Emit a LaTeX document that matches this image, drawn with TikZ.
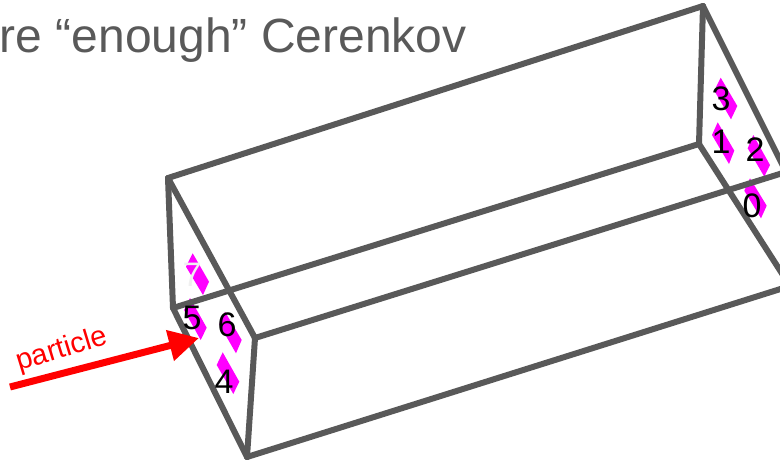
\documentclass[tikz,border=0pt]{standalone}
\usepackage{fontspec}
\setmainfont{Liberation Sans}
\usetikzlibrary{arrows.meta}
\definecolor{boxgray}{HTML}{595959}
\definecolor{mag}{HTML}{FF00FF}
\tikzset{
  edge/.style={draw=boxgray,line width=6pt,line cap=round},
  pmt/.style={fill=mag},
  num/.style={font=\fontsize{34}{34}\selectfont,text=black,inner sep=0pt},
}
\begin{document}
\begin{tikzpicture}[x=1pt,y=-1pt]
\useasboundingbox (0,0) rectangle (780,460);
\clip (0,0) rectangle (780,460);
% diamonds
\fill[pmt] (192.7,253.3)--(186,266.7)--(203,295)--(209,281.7)--cycle;
\fill[pmt] (190,298)--(184,310)--(200.7,340)--(206.7,327.7)--cycle;
\fill[pmt] (225,311.7)--(219.3,324.3)--(236,353.3)--(241.7,340)--cycle;
\fill[pmt] (222.7,352.3)--(216.7,365)--(233.3,394)--(239.3,381.7)--cycle;
\fill[pmt] (720.7,77.7)--(714.3,90.7)--(731,119.3)--(737.3,106)--cycle;
\fill[pmt] (717.7,122.3)--(712,135)--(729,164)--(734.3,150.7)--cycle;
\fill[pmt] (753.3,135)--(747.7,148.3)--(764.3,176.7)--(770,165)--cycle;
\fill[pmt] (750,178.3)--(744.3,190.7)--(761,218.3)--(766.7,205.7)--cycle;
% box corners
\coordinate (A) at (168,178);
\coordinate (B) at (703,6);
\coordinate (C) at (173,308);
\coordinate (D) at (699,144);
\coordinate (E) at (255,338);
\coordinate (F) at (786,172);
\coordinate (G) at (247,457);
\coordinate (H) at (790,286);
\draw[edge] (A)--(B);
\draw[edge] (A)--(C);
\draw[edge] (A)--(E);
\draw[edge] (B)--(D);
\draw[edge] (B)--(F);
\draw[edge] (C)--(D);
\draw[edge] (C)--(G);
\draw[edge] (E)--(F);
\draw[edge] (E)--(G);
\draw[edge] (G)--(H);
\draw[edge] (D)--(H);
% title
\node[anchor=base east,inner sep=0pt,text=boxgray,font=\fontsize{48}{48}\selectfont] (title) at (467,53) {re “enough” Cerenkov};
% arrow
\coordinate (pstart) at (10,387);
\coordinate (ptip) at (199,338);
\draw[red,line width=7pt,-{Triangle[length=30pt,width=30pt]}] (pstart)--(ptip);
\node[rotate=17,text=red,font=\fontsize{29}{29}\selectfont,inner sep=0pt] (plabel) at (62,350) {particle};
% numbers
\node[num,text=black!6] (n7) at (192,275) {7};
\node[num] (n5) at (192,318) {5};
\node[num] (n6) at (227,325) {6};
\node[num] (n4) at (224,382) {4};
\node[num] (n3) at (721,99) {3};
\node[num] (n1) at (721,142) {1};
\node[num] (n2) at (755,150) {2};
\node[num] (n0) at (752,206) {0};
\end{tikzpicture}
\end{document}
